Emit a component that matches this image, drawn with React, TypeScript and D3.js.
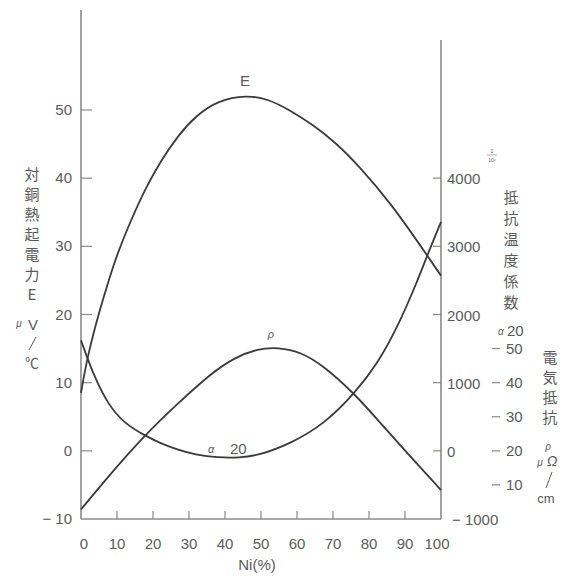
import React from "react";
import * as d3 from "d3";

// Ni (%) vs thermoelectric power E (μV/℃, left axis)
const eNi = [0, 1.7, 4.7, 8, 10, 14, 18, 22, 27, 32, 38, 46, 52, 58, 64.5, 71, 77, 86, 96, 100];
const eVal = [8.5, 13.6, 19.8, 25.5, 28.8, 34, 38.6, 42.4, 46.3, 49.2, 51.4, 52.2, 51.6, 50, 47.8, 45.1, 41.9, 36.4, 28.8, 25.7];

// Ni (%) vs temperature coefficient of resistance α20 (×10⁻⁶, right axis)
const aNi = [0, 1.7, 3.8, 7.5, 12.1, 17.7, 22.3, 27, 31.6, 38.1, 44, 49.2, 58.4, 67.7, 76, 82.5, 88, 93.6, 96.2, 100];
const aVal = [1620, 1370, 1080, 680, 400, 225, 105, 15, -55, -100, -100, -70, 110, 400, 840, 1290, 1820, 2510, 2870, 3360];

// Ni (%) vs electrical resistivity ρ (μΩ·cm, far-right scale)
const rNi = [0, 8, 17.7, 27, 36.2, 42.7, 49.2, 54.7, 61, 67.7, 76, 82.5, 89.9, 100];
const rVal = [2.8, 13, 24.6, 34, 42.8, 47.4, 50, 50.3, 49.1, 44.7, 36.7, 29, 20.2, 8.5];

const xTicks = [0, 10, 20, 30, 40, 50, 60, 70, 80, 90, 100];
const eTicks = [-10, 0, 10, 20, 30, 40, 50];
const aTicks = [-1000, 0, 1000, 2000, 3000, 4000];
const rTicks = [10, 20, 30, 40, 50];

const leftTitle = ["対", "銅", "熱", "起", "電", "力", "E"];
const alphaTitle = ["抵", "抗", "温", "度", "係", "数"];
const rhoTitle = ["電", "気", "抵", "抗"];

export default function App() {
  const x = d3.scaleLinear().domain([0, 100]).range([81, 441]);
  const yE = d3.scaleLinear().domain([-10, 50]).range([519, 110]);
  const yA = d3.scaleLinear().domain([-1000, 5000]).range([519, 110]);
  const yR = d3.scaleLinear().domain([0, 120]).range([519, 110]);

  const line = (xs: number[], ys: number[], ys2: (v: number) => number) =>
    d3
      .line<number>()
      .x((_, i) => x(xs[i]))
      .y((v) => ys2(v))
      .curve(d3.curveBasis)(ys) as string;

  const font = "'Liberation Sans', Arial, sans-serif";
  const cjk = "'Noto Sans CJK JP', sans-serif";
  const txt = "#5a5a5a";
  const axc = "#8a8a8a";
  const cc = "#3a3a3a";

  return (
    <svg width={562} height={576} style={{ position: "absolute", left: 0, top: 0 }}>
      <rect width={562} height={576} fill="#fff" />
      {/* axes */}
      <line x1={81} y1={10} x2={81} y2={519} stroke={axc} strokeWidth={1.6} />
      <line x1={441} y1={40} x2={441} y2={519} stroke={axc} strokeWidth={1.6} />
      <line x1={81} y1={519} x2={441} y2={519} stroke={axc} strokeWidth={1.6} />

      {/* x ticks */}
      {xTicks.map((t) => (
        <g key={"x" + t}>
          {t > 0 && t < 100 && (
            <line x1={x(t)} y1={519} x2={x(t)} y2={511} stroke={axc} strokeWidth={1.2} />
          )}
          <text x={x(t) + (t === 0 ? 3 : t === 100 ? -4 : 0)} y={549} textAnchor="middle" fontFamily={font} fontSize={15} fill={txt}>
            {t}
          </text>
        </g>
      ))}
      <text x={257} y={570} textAnchor="middle" fontFamily={font} fontSize={15} fill={txt}>
        Ni(%)
      </text>

      {/* left ticks */}
      {eTicks.map((t) => (
        <g key={"e" + t}>
          {t > -10 && <line x1={81} y1={yE(t)} x2={92} y2={yE(t)} stroke={axc} strokeWidth={1.2} />}
          <text x={72} y={yE(t) + 5} textAnchor="end" fontFamily={font} fontSize={15} fill={txt}>
            {t < 0 ? "− " + Math.abs(t) : t}
          </text>
        </g>
      ))}

      {/* right α ticks */}
      {aTicks.map((t) => (
        <g key={"a" + t}>
          {t > -1000 && <line x1={433} y1={yA(t)} x2={441} y2={yA(t)} stroke={axc} strokeWidth={1.2} />}
          <text x={t < 0 ? 452 : 447} y={yA(t) + 6} textAnchor="start" fontFamily={font} fontSize={15} fill={txt}>
            {t < 0 ? "− " + Math.abs(t) : t}
          </text>
        </g>
      ))}

      {/* ρ scale labels */}
      {rTicks.map((t) => (
        <g key={"r" + t}>
          <line x1={492} y1={yR(t)} x2={500} y2={yR(t)} stroke={axc} strokeWidth={1.2} />
          <text x={506} y={yR(t) + 5} textAnchor="start" fontFamily={font} fontSize={15} fill={txt}>
            {t}
          </text>
        </g>
      ))}

      {/* curves */}
      <path d={line(eNi, eVal, yE)} fill="none" stroke={cc} strokeWidth={1.8} />
      <path d={line(aNi, aVal, yA)} fill="none" stroke={cc} strokeWidth={1.8} />
      <path d={line(rNi, rVal, yR)} fill="none" stroke={cc} strokeWidth={1.8} />

      {/* curve labels */}
      <text x={245} y={86} textAnchor="middle" fontFamily={font} fontSize={15} fill={txt}>E</text>
      <text x={271} y={338} textAnchor="middle" fontFamily={font} fontSize={11} fontStyle="italic" fill={txt}>ρ</text>
      <text x={208} y={453} fontFamily={font} fontSize={11} fontStyle="italic" fill={txt}>α</text>
      <text x={230} y={454} fontFamily={font} fontSize={15} fill={txt}>20</text>

      {/* left title */}
      {leftTitle.map((c, i) => (
        <text key={"lt" + i} x={32} y={180 + i * 20} textAnchor="middle" fontFamily={cjk} fontSize={15} fill={txt}>
          {c}
        </text>
      ))}
      <text x={19} y={327} textAnchor="middle" fontFamily={font} fontSize={10} fontStyle="italic" fill={txt}>μ</text>
      <text x={33} y={330} textAnchor="middle" fontFamily={font} fontSize={15} fill={txt}>V</text>
      <line x1={29} y1={350} x2={36} y2={337} stroke={txt} strokeWidth={1} />
      <text x={32} y={368} textAnchor="middle" fontFamily={cjk} fontSize={14} fill={txt}>℃</text>

      {/* α title */}
      <text x={492} y={153} textAnchor="middle" fontFamily={font} fontSize={5} fill={txt}>1</text>
      <line x1={487} y1={155} x2={497} y2={155} stroke={txt} strokeWidth={0.5} />
      <text x={492} y={162} textAnchor="middle" fontFamily={font} fontSize={5} fill={txt}>10⁶</text>
      {alphaTitle.map((c, i) => (
        <text key={"at" + i} x={511} y={203 + i * 21} textAnchor="middle" fontFamily={cjk} fontSize={15} fill={txt}>
          {c}
        </text>
      ))}
      <text x={498} y={335} fontFamily={font} fontSize={10} fontStyle="italic" fill={txt}>α</text>
      <text x={507} y={336} fontFamily={font} fontSize={15} fill={txt}>20</text>

      {/* ρ title */}
      {rhoTitle.map((c, i) => (
        <text key={"rt" + i} x={550} y={363 + i * 20} textAnchor="middle" fontFamily={cjk} fontSize={15} fill={txt}>
          {c}
        </text>
      ))}
      <text x={548} y={450} textAnchor="middle" fontFamily={font} fontSize={10} fontStyle="italic" fill={txt}>ρ</text>
      <text x={540} y={466} textAnchor="middle" fontFamily={font} fontSize={10} fontStyle="italic" fill={txt}>μ</text>
      <text x={552} y={466} textAnchor="middle" fontFamily={font} fontSize={14} fontStyle="italic" fill={txt}>Ω</text>
      <line x1={546} y1={488} x2={552} y2={472} stroke={txt} strokeWidth={1} />
      <text x={546} y={503} textAnchor="middle" fontFamily={font} fontSize={13} fill={txt}>cm</text>
    </svg>
  );
}
